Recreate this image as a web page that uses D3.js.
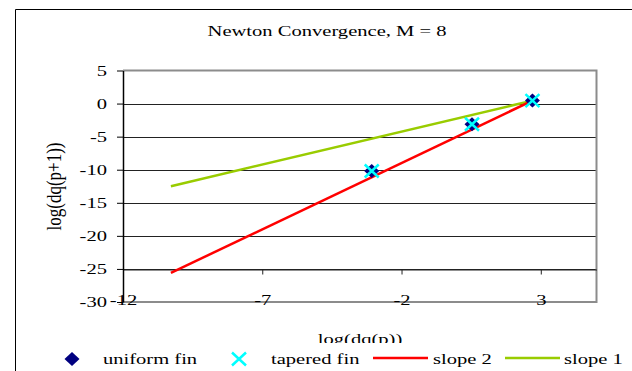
<!DOCTYPE html>
<html>
<head>
<meta charset="utf-8">
<script src="https://cdn.jsdelivr.net/npm/d3@7"></script>
<style>
  body { margin: 0; background: #fff; }
  svg { display: block; font-family: "Liberation Serif", "Times New Roman", serif; }
</style>
</head>
<body>
<svg id="chart" width="632" height="371"></svg>
<script>
// values
var uniformX = [-3.07, 0.53, 2.7];
var uniformY = [-10.2, -3.13, 0.45];
var taperedX = [-3.07, 0.53, 2.7];
var taperedY = [-10.2, -3.13, 0.45];
var slope2X = [-10.28, 2.7];
var slope2Y = [-25.6, 0.45];
var slope1X = [-10.28, 2.7];
var slope1Y = [-12.5, 0.45];
var xTicks = [-12, -7, -2, 3];
var yTicks = [-30, -25, -20, -15, -10, -5, 0, 5];
var legendNames = ["uniform fin", "tapered fin", "slope 2", "slope 1"];

var SX = 1.37; // text in the original is stretched sideways
var FS = 15;

var pLeft = 123, pRight = 596.5, pTop = 70.5, pBottom = 302;

var svg = d3.select("#chart");

// outer chart frame (runs off the picture on right and bottom)
svg.append("line").attr("x1", 15.5).attr("x2", 15.5).attr("y1", 9.5).attr("y2", 371)
  .attr("stroke", "#000").attr("stroke-width", 1);
svg.append("line").attr("x1", 15.5).attr("x2", 632).attr("y1", 9.5).attr("y2", 9.5)
  .attr("stroke", "#000").attr("stroke-width", 1);

var x = d3.scaleLinear().domain([-12, 5]).range([pLeft, pRight]);
var y = d3.scaleLinear().domain([-30, 5]).range([pBottom, pTop]);

function stext(parent, str, px, py, anchor, size) {
  return parent.append("text")
    .attr("transform", "translate(" + px + "," + py + ") scale(" + SX + ",1)")
    .attr("text-anchor", anchor || "start")
    .attr("font-size", size || FS)
    .attr("fill", "#000")
    .text(str);
}

stext(svg, "Newton Convergence, M = 8", 327, 36, "middle");

// gridlines
svg.append("g").selectAll("line")
  .data(yTicks.filter(function (d) { return d > -30 && d < 5; }))
  .enter().append("line")
  .attr("x1", pLeft).attr("x2", pRight)
  .attr("y1", function (d) { return Math.round(y(d)) + 0.5; })
  .attr("y2", function (d) { return Math.round(y(d)) + 0.5; })
  .attr("stroke", "#222").attr("stroke-width", 1);

// plot frame (gray)
svg.append("path")
  .attr("d", "M" + pLeft + "," + pTop + "H" + pRight + "V" + pBottom + "H" + pLeft)
  .attr("fill", "none").attr("stroke", "#8c8c8c").attr("stroke-width", 2);

// x axis crosses at -25, labels sit low
var axisY = Math.round(y(-25)) + 0.5;
var xAxis = d3.axisBottom(x).tickValues(xTicks).tickSize(5).tickSizeOuter(0);
var gx = svg.append("g")
  .attr("transform", "translate(0," + axisY + ")")
  .call(xAxis);
gx.select(".domain").attr("stroke", "#222");
gx.selectAll("line").attr("stroke", "#222");
gx.selectAll("text")
  .attr("y", 0).attr("dy", 0)
  .attr("transform", "translate(0," + (pBottom + 3 - axisY) + ") scale(" + SX + ",1)")
  .attr("font-size", FS).attr("fill", "#000")
  .text(function (d) { return String(d); });

// y axis
var yAxis = d3.axisLeft(y).tickValues(yTicks).tickSize(6).tickSizeOuter(0)
  .tickPadding(16 / SX - 6)
  .tickFormat(function (d) { return String(d); });
var gy = svg.append("g").attr("transform", "translate(" + pLeft + ",0)").call(yAxis);
gy.select(".domain").attr("stroke", "#000").attr("stroke-width", 1.5);
gy.selectAll("line").attr("stroke", "#000");
gy.selectAll("text")
  .attr("transform", "scale(" + SX + ",1)")
  .attr("font-size", FS).attr("fill", "#000");
gx.attr("font-family", null);
gy.attr("font-family", null);

// axis titles
svg.append("text")
  .attr("transform", "translate(61,186.5) scale(1.25,1) rotate(-90)")
  .attr("text-anchor", "middle")
  .attr("font-size", 17)
  .text("log(dq(p+1))");

// x title is partly hidden behind the legend in the original
svg.append("defs").append("clipPath").attr("id", "xtclip")
  .append("rect").attr("x", 0).attr("y", 0).attr("width", 632).attr("height", 343);
var xt = svg.append("g").attr("clip-path", "url(#xtclip)");
stext(xt, "log(dq(p))", 360, 343.5, "middle");

// series lines
var line = d3.line().x(function (d) { return x(d[0]); }).y(function (d) { return y(d[1]); });
svg.append("path").datum(d3.zip(slope1X, slope1Y)).attr("d", line)
  .attr("fill", "none").attr("stroke", "#99CC00").attr("stroke-width", 2.5);
svg.append("path").datum(d3.zip(slope2X, slope2Y)).attr("d", line)
  .attr("fill", "none").attr("stroke", "#FF0000").attr("stroke-width", 2.5);

function diamond(g) {
  g.append("path").attr("d", "M0,-7L7.5,0L0,7L-7.5,0Z").attr("fill", "#000080");
}
function cross(g) {
  g.append("path").attr("d", "M-7,-6.5L7,6.5M-7,6.5L7,-6.5")
    .attr("stroke", "#00FFFF").attr("stroke-width", 2.5).attr("fill", "none");
}

svg.append("g").selectAll("g")
  .data(d3.zip(uniformX, uniformY))
  .enter().append("g")
  .attr("transform", function (d) { return "translate(" + x(d[0]) + "," + y(d[1]) + ")"; })
  .each(function () { diamond(d3.select(this)); });

svg.append("g").selectAll("g")
  .data(d3.zip(taperedX, taperedY))
  .enter().append("g")
  .attr("transform", function (d) { return "translate(" + x(d[0]) + "," + y(d[1]) + ")"; })
  .each(function () { cross(d3.select(this)); });

// legend
var ly = 359;
diamond(svg.append("g").attr("transform", "translate(72," + ly + ")"));
stext(svg, legendNames[0], 103, ly + 5);
cross(svg.append("g").attr("transform", "translate(239," + ly + ")"));
stext(svg, legendNames[1], 271, ly + 5);
svg.append("line").attr("x1", 373).attr("x2", 428).attr("y1", ly - 1).attr("y2", ly - 1)
  .attr("stroke", "#FF0000").attr("stroke-width", 2.5);
stext(svg, legendNames[2], 433, ly + 5);
svg.append("line").attr("x1", 505).attr("x2", 560).attr("y1", ly - 1).attr("y2", ly - 1)
  .attr("stroke", "#99CC00").attr("stroke-width", 2.5);
stext(svg, legendNames[3], 564, ly + 5);
</script>
</body>
</html>
